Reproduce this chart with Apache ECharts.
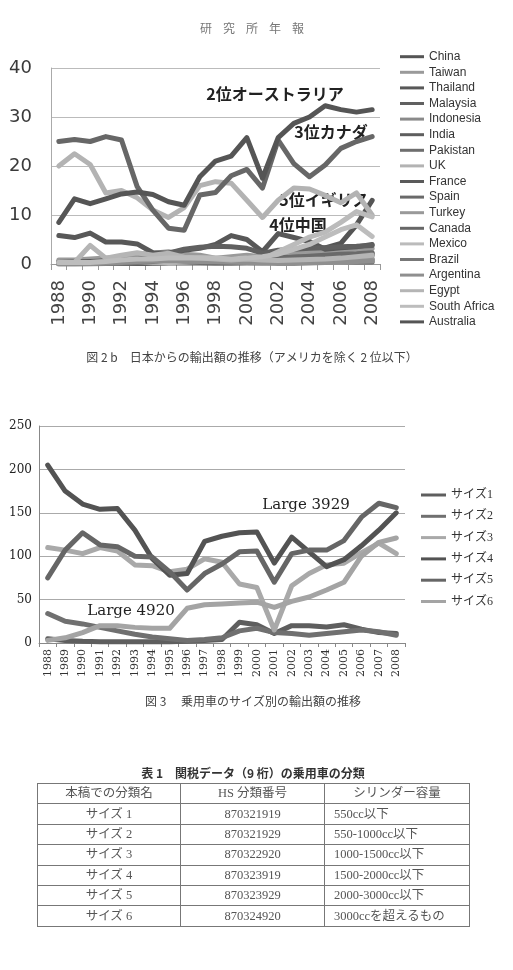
<!DOCTYPE html>
<html><head><meta charset="utf-8">
<script src="https://cdn.jsdelivr.net/npm/echarts@6/dist/echarts.min.js"></script>
<style>
html,body{margin:0;padding:0;background:#fff;}
#c{position:absolute;left:0;top:0;width:513px;height:970px;}
#tbl{position:absolute;left:37px;top:783px;border-collapse:collapse;width:432px;table-layout:fixed;
 font-family:"Liberation Serif","Noto Sans CJK JP",serif;font-size:12.5px;color:#555;border:1.5px solid #555;}
#tbl td{border:1px solid #777;height:19.4px;padding:0;line-height:19px;text-align:center;white-space:nowrap;}
#tbl td.l{text-align:left;padding-left:9px;}
</style></head><body>
<div id="c"></div>
<table id="tbl"></table>
<script>
// ---------- Figure 2b data (1988-2008) ----------
const years = ["1988","1989","1990","1991","1992","1993","1994","1995","1996","1997","1998","1999","2000","2001","2002","2003","2004","2005","2006","2007","2008"];
const countries = ["China","Taiwan","Thailand","Malaysia","Indonesia","India","Pakistan","UK","France","Spain","Turkey","Canada","Mexico","Brazil","Argentina","Egypt","South Africa","Australia"];
const china       = [0.5,0.5,0.6,0.7,0.8,1.5,1.8,1.5,1.2,1.2,1.0,1.0,1.2,1.5,2.0,2.5,3.0,3.3,4.2,8.0,13.0];
const taiwan      = [0.8,0.8,1.0,1.2,1.5,2.0,2.2,2.5,2.0,1.8,1.2,1.5,1.8,1.5,2.0,2.3,2.5,2.6,2.8,3.0,3.2];
const thailand    = [5.8,5.4,6.3,4.5,4.5,4.1,2.3,2.2,2.8,3.2,4.0,5.8,5.0,2.5,6.2,5.4,4.6,3.0,3.3,3.5,4.0];
const malaysia    = [0.3,0.3,0.4,0.6,0.8,1.0,1.5,2.2,3.0,3.4,3.6,3.5,3.2,2.2,2.8,3.0,3.2,3.3,3.5,3.6,3.8];
const indonesia   = [0.2,0.2,0.3,0.4,0.5,0.6,0.8,1.0,1.2,1.3,0.6,0.3,0.5,0.6,0.8,1.0,1.2,1.3,1.5,2.0,2.2];
const india       = [0.1,0.1,0.1,0.1,0.1,0.1,0.1,0.2,0.2,0.2,0.2,0.2,0.3,0.3,0.4,0.4,0.5,0.6,0.7,0.8,0.9];
const pakistan    = [0.2,0.2,0.2,0.2,0.2,0.3,0.3,0.3,0.3,0.3,0.2,0.2,0.2,0.2,0.3,0.3,0.4,0.5,0.5,0.4,0.4];
const uk          = [20.0,22.5,20.3,14.5,15.0,13.5,11.0,9.5,11.5,16.0,16.8,16.5,13.0,9.5,13.0,15.5,15.3,14.0,12.5,14.5,10.0];
const france      = [0.3,0.4,0.5,0.6,0.7,0.6,0.5,0.6,0.7,0.8,0.9,1.0,1.1,1.0,1.2,1.4,1.5,1.6,1.6,1.7,1.8];
const spain       = [0.2,0.3,0.3,0.4,0.5,0.4,0.4,0.5,0.6,0.7,0.8,0.9,1.0,1.0,1.2,1.4,1.6,1.8,2.0,2.1,2.3];
const turkey      = [0.1,0.1,0.2,0.3,0.3,0.4,0.2,0.3,0.4,0.6,0.7,0.6,0.8,0.3,0.3,0.5,0.7,0.8,0.9,1.0,1.1];
const canada      = [25.0,25.4,25.0,26.0,25.3,15.8,11.0,7.3,6.9,14.1,14.6,18.0,19.3,15.5,25.3,20.5,17.8,20.2,23.6,25.0,26.0];
const mexico      = [0.2,0.2,0.3,0.4,0.5,0.5,0.4,0.3,0.4,0.5,0.6,0.8,1.0,1.0,2.5,4.0,5.5,6.5,8.5,10.7,9.6];
const brazil      = [0.0,0.0,0.0,0.1,0.2,0.3,0.5,0.8,0.6,0.5,0.4,0.3,0.3,0.3,0.3,0.4,0.5,0.7,1.0,1.5,2.0];
const argentina   = [0.0,0.0,0.1,0.2,0.3,0.5,0.6,0.7,0.6,0.5,0.5,0.4,0.3,0.2,0.1,0.1,0.2,0.3,0.4,0.5,0.6];
const egypt       = [0.3,0.3,3.8,1.2,1.8,2.3,1.8,2.2,1.4,1.2,1.0,0.8,1.0,0.8,0.7,0.8,0.9,1.0,1.2,1.5,1.8];
const southAfrica = [0.3,0.3,0.3,0.5,0.8,1.0,1.0,1.2,1.2,1.3,1.2,1.0,1.2,1.5,2.0,3.0,4.0,5.5,7.0,8.0,5.6];
const australia   = [8.5,13.3,12.3,13.3,14.3,14.7,14.2,12.7,12.0,17.8,21.0,22.0,25.8,17.5,25.8,28.7,30.0,32.3,31.5,31.0,31.5];
const countryData = [china,taiwan,thailand,malaysia,indonesia,india,pakistan,uk,france,spain,turkey,canada,mexico,brazil,argentina,egypt,southAfrica,australia];
const countryColors = ["#555555","#9a9a9a","#585858","#606060","#8a8a8a","#5e5e5e","#6e6e6e","#b3b3b3","#5a5a5a","#6a6a6a","#999999","#676767","#bbbbbb","#777777","#8f8f8f","#b5b5b5","#bdbdbd","#555555"];
const yTicks1 = [0,10,20,30,40];

// ---------- Figure 3 data (1988-2008) ----------
const sizeNames = ["サイズ1","サイズ2","サイズ3","サイズ4","サイズ5","サイズ6"];
const size1 = [5,3,2,1.5,1.5,1.5,1.5,1.5,2,3,4,24,21,11,20,20,18.5,21,16,12,11];
const size2 = [34,25,22,18,14,10,7,5,3,4,6,14,17,12,11,9,11,13,15,13,9];
const size3 = [110,107,103,110,106,90,89,82,85,97,93,68,64,15,66,80,90,92,104,115,103];
const size4 = [205,175,160,154,155,130,97,78,80,117,123,127,128,92,122,105,88,96,112,130,150];
const size5 = [75,107,127,113,111,100,99,82,61,80,91,105,106,70,103,107,107,118,145,161,156];
const size6 = [3,6,12,20,20,18,17,17,40,44,45,46,47,41,48,53,61,70,100,116,121];
const sizeData = [size1,size2,size3,size4,size5,size6];
const sizeColors = ["#5e5e5e","#707070","#a9a9a9","#535353","#666666","#a4a4a4"];

// ---------- Table 1 ----------
const tableHeader = ["本稿での分類名","HS 分類番号","シリンダー容量"];
const tableNames = ["サイズ 1","サイズ 2","サイズ 3","サイズ 4","サイズ 5","サイズ 6"];
const tableCodes = ["870321919","870321929","870322920","870323919","870323929","870324920"];
const tableCc = ["550cc以下","550-1000cc以下","1000-1500cc以下","1500-2000cc以下","2000-3000cc以下","3000ccを超えるもの"];

const headChars = ["研","究","所","年","報"];

// build table
(function(){
  const t = document.getElementById('tbl');
  let h = '<colgroup><col style="width:143px"><col style="width:144px"><col style="width:145px"></colgroup>';
  h += '<tr><td>'+tableHeader[0]+'</td><td>'+tableHeader[1]+'</td><td>'+tableHeader[2]+'</td></tr>';
  for (let i=0;i<tableNames.length;i++){
    h += '<tr><td>'+tableNames[i]+'</td><td>'+tableCodes[i]+'</td><td class="l">'+tableCc[i]+'</td></tr>';
  }
  t.innerHTML = h;
})();

const chart = echarts.init(document.getElementById('c'), null, {renderer:'canvas'});

const series = [];
countries.forEach((name,i)=>{
  series.push({name, type:'line', xAxisIndex:0, yAxisIndex:0, data:countryData[i], symbol:'none', smooth:false,
    lineStyle:{width:5, color:countryColors[i], join:'round', cap:'round'}, itemStyle:{color:countryColors[i]}, animation:false, silent:true});
});
sizeNames.forEach((name,i)=>{
  series.push({name, type:'line', xAxisIndex:1, yAxisIndex:1, data:sizeData[i], symbol:'none',
    lineStyle:{width:5, color:sizeColors[i], join:'round', cap:'round'}, itemStyle:{color:sizeColors[i]}, animation:false, silent:true});
});

function txt(text, x, y, font, fill, align){
  return {type:'text', x, y, silent:true, style:{text, font, fill, align:align||'center', verticalAlign:'middle', textAlign:align||'center', textVerticalAlign:'middle'}};
}
const jp = '"Noto Sans CJK JP"';
const graphics = [];
headChars.forEach((ch,i)=>graphics.push(txt(ch, 206 + i*23, 28, '12px '+jp, '#777')));
graphics.push(txt('図 2 b　日本からの輸出額の推移（アメリカを除く 2 位以下）', 252, 357, '12px '+jp, '#444'));
graphics.push(txt('図 3　 乗用車のサイズ別の輸出額の推移', 253, 701, '12px '+jp, '#444'));
graphics.push(txt('表 1　関税データ（9 桁）の乗用車の分類', 253, 773, 'bold 12px '+jp, '#333'));
graphics.push(txt('2位オーストラリア', 275, 94, 'bold 16px '+jp, '#222'));
graphics.push(txt('3位カナダ', 331, 132, 'bold 16px '+jp, '#222'));
graphics.push(txt('5位イギリス', 324, 200, 'bold 16px '+jp, '#222'));
graphics.push(txt('4位中国', 298, 225, 'bold 16px '+jp, '#222'));
graphics.push(txt('Large 3929', 306, 505, '15px "DejaVu Serif"', '#222'));
graphics.push(txt('Large 4920', 131, 611, '15px "DejaVu Serif"', '#222'));

const option = {
  animation:false,
  backgroundColor:'#ffffff',
  grid:[
    {left:51, top:68, width:329, height:196},
    {left:39, top:426, width:366, height:217}
  ],
  xAxis:[
    {type:'category', gridIndex:0, data:years, boundaryGap:true,
     axisLine:{lineStyle:{color:'#999', width:1}},
     axisTick:{show:true, interval:0, length:6, lineStyle:{color:'#999'}},
     axisLabel:{interval:1, rotate:90, margin:16, fontFamily:'DejaVu Sans', fontSize:18, color:'#444'},
     splitLine:{show:false}},
    {type:'category', gridIndex:1, data:years, boundaryGap:true,
     axisLine:{lineStyle:{color:'#888', width:1}},
     axisTick:{show:true, interval:0, length:4, lineStyle:{color:'#888'}},
     axisLabel:{interval:0, rotate:90, margin:6, fontFamily:'DejaVu Serif', fontSize:11, color:'#333'},
     splitLine:{show:false}}
  ],
  yAxis:[
    {type:'value', gridIndex:0, min:yTicks1[0], max:yTicks1[yTicks1.length-1], interval:10,
     axisLine:{show:true, lineStyle:{color:'#aaa'}}, axisTick:{show:false},
     splitLine:{lineStyle:{color:'#bbb', width:1}},
     axisLabel:{fontFamily:'DejaVu Sans', fontSize:18, color:'#3a3a3a', margin:19}},
    {type:'value', gridIndex:1, min:0, max:250, interval:50,
     axisLine:{show:true, lineStyle:{color:'#888'}}, axisTick:{show:false},
     splitLine:{lineStyle:{color:'#aaa', width:1}},
     axisLabel:{fontFamily:'DejaVu Serif', fontSize:12, color:'#222', margin:7}}
  ],
  legend:[
    {data:countries, orient:'vertical', left:400, top:50.7, padding:0, icon:'rect', itemWidth:24, itemHeight:3, itemGap:3.6,
     selectedMode:false, textStyle:{fontFamily:'Liberation Sans', fontSize:12, color:'#333'}},
    {data:sizeNames, orient:'vertical', left:421, top:489, padding:0, icon:'rect', itemWidth:25, itemHeight:3, itemGap:9.3,
     selectedMode:false, textStyle:{fontFamily:'"Liberation Serif", "Noto Sans CJK JP"', fontSize:12, color:'#333'}}
  ],
  series,
  graphic:graphics
};
chart.setOption(option);
</script>
</body></html>
